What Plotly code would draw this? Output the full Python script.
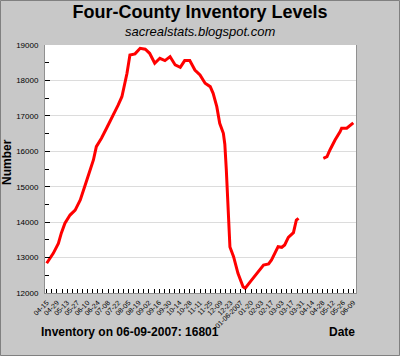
import plotly.graph_objects as go
from datetime import date, timedelta

# ---- data ----
dates = [
    "2006-04-15", "2006-04-24", "2006-05-01", "2006-05-05", "2006-05-10", "2006-05-17",
    "2006-05-24", "2006-05-28", "2006-05-31", "2006-06-09", "2006-06-18", "2006-06-22",
    "2006-06-29", "2006-07-06", "2006-07-13", "2006-07-22", "2006-07-27", "2006-07-31",
    "2006-08-03", "2006-08-07", "2006-08-14", "2006-08-21", "2006-08-28", "2006-09-03",
    "2006-09-10", "2006-09-17", "2006-09-24", "2006-10-01", "2006-10-08", "2006-10-15",
    "2006-10-21", "2006-10-28", "2006-11-04", "2006-11-11", "2006-11-18", "2006-11-25",
    "2006-11-29", "2006-12-04", "2006-12-08", "2006-12-13", "2006-12-15", "2006-12-17",
    "2006-12-19", "2006-12-21", "2006-12-22", "2006-12-27", "2007-01-02", "2007-01-09",
    "2007-01-12", "2007-01-19", "2007-01-28", "2007-02-06", "2007-02-13", "2007-02-17",
    "2007-02-26", "2007-03-03", "2007-03-07", "2007-03-12", "2007-03-19", "2007-03-23",
    "2007-03-26", "2007-04-10", "2007-04-29", "2007-05-04", "2007-05-08", "2007-05-15",
    "2007-05-22", "2007-05-24", "2007-05-31", "2007-06-04", "2007-06-07", "2007-06-09",
]
inventory = [
    12840, 13120, 13400, 13690, 13970, 14200,
    14340, 14530, 14625, 15190, 15755, 16130,
    16367, 16650, 16930, 17307, 17540, 17920,
    18200, 18720, 18750, 18908, 18880, 18766,
    18484, 18625, 18560, 18672, 18437, 18371,
    18560, 18560, 18295, 18154, 17920, 17825,
    17637, 17260, 16790, 16508, 16200, 15500,
    14600, 13700, 13300, 13025, 12556, 12178,
    12133, 12320, 12556, 12790, 12819, 12932,
    13307, 13290, 13355, 13572, 13703, 14060,
    14108, None, 15802, 15848, 16037, 16319,
    16554, 16650, 16650, 16715, 16790, 16801,
]

tick_start = date(2006, 4, 15)
tick_dates = [tick_start + timedelta(days=14 * i) for i in range(31)]
tick_labels = [
    d.strftime("%m-%d") + ("-2007" if d == date(2007, 1, 6) else "")
    for d in tick_dates
]
y_ticks = [12000, 13000, 14000, 15000, 16000, 17000, 18000, 19000]

FONT = "Liberation Sans, Arial, sans-serif"
BG = "#c8c8c8"

fig = go.Figure()
fig.add_trace(go.Scatter(
    x=dates, y=inventory, mode="lines",
    line=dict(color="#ff0000", width=3),
    connectgaps=False, hoverinfo="skip", showlegend=False,
))

fig.update_layout(
    width=400, height=356,
    margin=dict(l=45, r=44, t=45, b=63, autoexpand=False),
    paper_bgcolor=BG, plot_bgcolor="#ffffff",
    font=dict(family=FONT, color="#000000"),
    title=dict(
        text="<b>Four-County Inventory Levels</b>",
        x=0.5, xanchor="center", y=1 - 12 / 356, yanchor="middle",
        font=dict(size=18, family=FONT, color="#000000"),
        automargin=False,
    ),
    xaxis=dict(
        type="date",
        range=["2006-04-12 16:00", "2007-06-12 17:00"],
        tickmode="array",
        tickvals=[d.isoformat() for d in tick_dates],
        ticktext=tick_labels,
        tickangle=-45,
        tickfont=dict(size=7, family=FONT, color="#000000"),
        ticks="inside", ticklen=4, tickcolor="#000000", tickwidth=1,
        minor=dict(ticks="inside", ticklen=4, tickcolor="#000000",
                   tickmode="linear", tick0="2006-04-15", dtick=7 * 86400000),
        showgrid=False, zeroline=False,
        showline=True, linecolor="#909090", linewidth=1,
        ticklabelstandoff=2,
        automargin=False,
        fixedrange=True,
    ),
    yaxis=dict(
        range=[12000, 19000],
        tickmode="array", tickvals=y_ticks,
        ticktext=[str(v) for v in y_ticks],
        tickfont=dict(size=8, family=FONT, color="#000000"),
        ticks="inside", ticklen=5, tickcolor="#000000", tickwidth=1,
        minor=dict(ticks="inside", ticklen=4, tickcolor="#000000",
                   tickmode="linear", tick0=12500, dtick=1000, showgrid=False),
        showgrid=True, gridcolor="#dcdcdc", gridwidth=1,
        zeroline=False,
        showline=True, linecolor="#909090", linewidth=1, mirror=True,
        ticklabelstandoff=4,
        automargin=False,
        fixedrange=True,
    ),
    annotations=[
        dict(text="<i>sacrealstats.blogspot.com</i>", xref="paper", yref="paper",
             x=(200 - 45) / 311, y=(293 - 32) / 248, xanchor="center", yanchor="middle",
             showarrow=False, font=dict(size=13, family=FONT, color="#000000")),
        dict(text="<b>Number</b>", xref="paper", yref="paper",
             x=(7 - 45) / 311, y=(293 - 162) / 248, xanchor="center", yanchor="middle",
             textangle=-90, showarrow=False,
             font=dict(size=12, family=FONT, color="#000000")),
        dict(text="<b>Inventory on 06-09-2007: 16801</b>", xref="paper", yref="paper",
             x=(39 - 45) / 311, y=(293 - 332) / 248, xanchor="left", yanchor="middle",
             showarrow=False, font=dict(size=12, family=FONT, color="#000000")),
        dict(text="<b>Date</b>", xref="paper", yref="paper",
             x=(357 - 45) / 311, y=(293 - 332) / 248, xanchor="right", yanchor="middle",
             showarrow=False, font=dict(size=12, family=FONT, color="#000000")),
    ],
    shapes=[
        dict(type="rect", xref="paper", yref="paper",
             x0=(0.5 - 45) / 311, x1=(399.5 - 45) / 311,
             y0=(293 - 355.5) / 248, y1=(293 - 0.5) / 248,
             line=dict(color="#808080", width=1), fillcolor="rgba(0,0,0,0)",
             layer="above"),
    ],
)

fig.write_html(
    "out.html",
    config={"displayModeBar": False},
    post_script="document.body.style.margin='0';document.body.style.overflow='hidden';",
)
